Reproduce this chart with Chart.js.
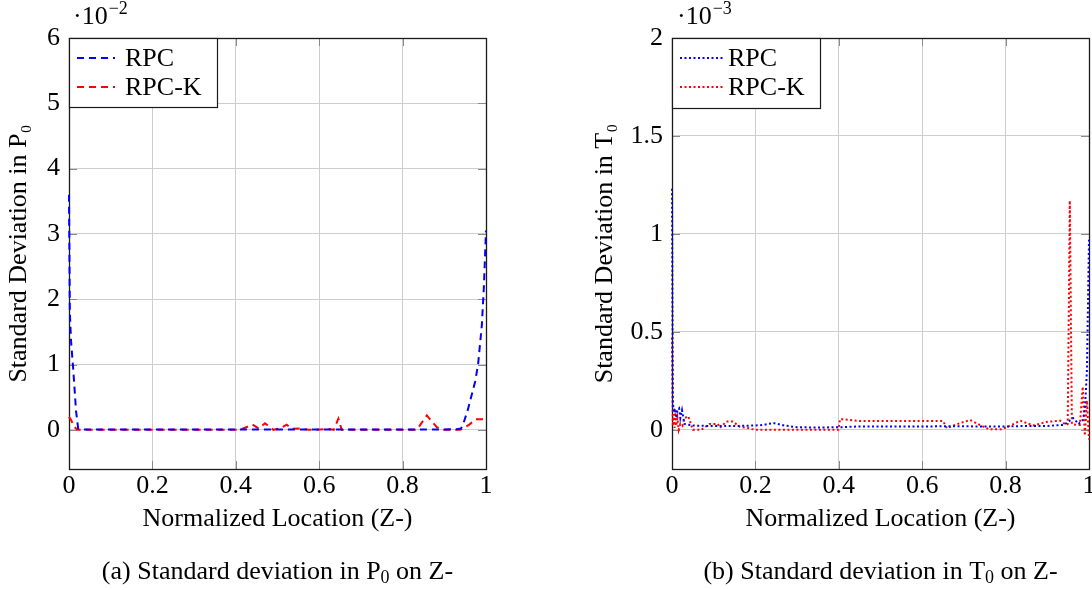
<!DOCTYPE html>
<html>
<head>
<meta charset="utf-8">
<script src="https://cdn.jsdelivr.net/npm/chart.js@4.4.1/dist/chart.umd.min.js"></script>
<style>
  html, body { margin: 0; padding: 0; background: #fff; overflow: hidden; width: 1092px; height: 590px; }
  canvas { position: absolute; top: 0; }
  #cP { left: 0px; }
  #cT { left: 546px; }
</style>
</head>
<body>
<canvas id="cP" width="546" height="590"></canvas>
<canvas id="cT" width="560" height="590"></canvas>
<script>
// ---------------- DATA ----------------
// x: normalized location (Z-), shared tick arrays
const X_TICKS = [0, 0.2, 0.4, 0.6, 0.8, 1];
const X_TICK_LABELS = ['0', '0.2', '0.4', '0.6', '0.8', '1'];

// (a) Standard deviation in P0, values in units of 1e-2
const P_Y_TICKS = [0, 1, 2, 3, 4, 5, 6];
const P_Y_TICK_LABELS = ['0', '1', '2', '3', '4', '5', '6'];
const P_RPC_X = [0, 0.002, 0.005, 0.01, 0.017, 0.022, 0.03, 0.1, 0.2, 0.3, 0.4, 0.5, 0.6, 0.7, 0.8, 0.9, 0.93, 0.94, 0.945, 0.957, 0.974, 0.981, 0.99, 0.995, 1];
const P_RPC_Y = [3.6, 1.8, 1.35, 0.94, 0.28, 0.02, 0.005, 0.004, 0.003, 0.003, 0.003, 0.004, 0.004, 0.004, 0.004, 0.005, 0.01, 0.02, 0.08, 0.32, 0.74, 1.0, 1.6, 2.2, 3.05];
const P_RPCK_X = [0, 0.005, 0.012, 0.02, 0.1, 0.2, 0.3, 0.41, 0.425, 0.44, 0.455, 0.47, 0.49, 0.505, 0.522, 0.534, 0.554, 0.575, 0.594, 0.618, 0.635, 0.646, 0.654, 0.7, 0.8, 0.834, 0.858, 0.882, 0.897, 0.92, 0.938, 0.96, 0.975, 0.99, 1];
const P_RPCK_Y = [0.2, 0.15, 0.05, 0.0, 0.0, 0.0, 0.0, 0.0, 0.04, 0.08, 0.02, 0.1, 0.0, 0.02, 0.08, 0.015, 0.02, 0.0, 0.0, 0.015, 0.0, 0.17, 0.0, 0.0, 0.0, 0.0, 0.22, 0.04, 0.0, 0.0, 0.0, 0.08, 0.16, 0.16, 0.16];

// (b) Standard deviation in T0, values in units of 1e-3
const T_Y_TICKS = [0, 0.5, 1, 1.5, 2];
const T_Y_TICK_LABELS = ['0', '0.5', '1', '1.5', '2'];
const T_RPC_X = [0, 0.002, 0.004, 0.007, 0.01, 0.013, 0.017, 0.02, 0.024, 0.03, 0.05, 0.08, 0.12, 0.16, 0.2, 0.22, 0.243, 0.27, 0.3, 0.35, 0.4, 0.45, 0.5, 0.55, 0.6, 0.65, 0.7, 0.75, 0.8, 0.85, 0.9, 0.94, 0.962, 0.975, 0.985, 0.99, 0.995, 1.0];
const T_RPC_Y = [1.23, 0.15, 0.09, 0.11, 0.06, 0.1, 0.11, 0.06, 0.1, 0.03, 0.022, 0.02, 0.02, 0.02, 0.022, 0.025, 0.035, 0.022, 0.013, 0.012, 0.013, 0.017, 0.017, 0.017, 0.017, 0.018, 0.018, 0.017, 0.017, 0.02, 0.02, 0.025, 0.06, 0.03, 0.05, 0.1, 0.3, 0.97];
const T_RPCK_X = [0, 0.002, 0.004, 0.006, 0.008, 0.01, 0.013, 0.016, 0.02, 0.025, 0.03, 0.039, 0.05, 0.07, 0.09, 0.11, 0.115, 0.13, 0.146, 0.163, 0.18, 0.2, 0.25, 0.3, 0.35, 0.399, 0.403, 0.45, 0.5, 0.55, 0.6, 0.65, 0.659, 0.69, 0.715, 0.738, 0.76, 0.79, 0.81, 0.835, 0.866, 0.898, 0.93, 0.946, 0.949, 0.954, 0.959, 0.97, 0.978, 0.985, 0.99, 0.995, 1.0];
const T_RPCK_Y = [0.47, 0.02, 0.08, 0.01, 0.1, 0.02, 0.06, 0.0, 0.03, 0.02, 0.06, 0.07, 0.0, 0.0, 0.03, 0.03, 0.01, 0.042, 0.042, 0.015, 0.01, 0.0, 0.0, 0.0, 0.0, 0.0, 0.055, 0.045, 0.045, 0.045, 0.045, 0.045, 0.008, 0.034, 0.05, 0.025, 0.003, 0.003, 0.02, 0.047, 0.022, 0.04, 0.047, 0.025, 0.03, 1.17, 0.03, 0.025, 0.025, 0.22, -0.03, 0.15, -0.05];

// ---------------- RENDERING ----------------
const FONT = "'Liberation Serif', 'DejaVu Serif', serif";
const FS = 26;
Chart.defaults.font.family = FONT;
Chart.defaults.font.size = FS;
Chart.defaults.color = '#000';

const zip = (xs, ys) => xs.map((x, i) => ({ x, y: ys[i] }));

const decorPlugin = {
  id: 'decor',
  beforeDatasetsDraw(chart, args, o) {
    const ctx = chart.ctx, a = chart.chartArea;
    const xs = chart.scales.x, ys = chart.scales.y;
    ctx.save();
    // inner tick marks (all four sides)
    ctx.strokeStyle = '#8a8a8a';
    ctx.lineWidth = 1;
    const TL = 8;
    ctx.beginPath();
    X_TICKS.forEach(v => {
      const px = Math.round(xs.getPixelForValue(v)) + 0.5;
      ctx.moveTo(px, a.bottom); ctx.lineTo(px, a.bottom - TL);
      ctx.moveTo(px, a.top); ctx.lineTo(px, a.top + TL);
    });
    o.yTicks.forEach(v => {
      const py = Math.round(ys.getPixelForValue(v)) + 0.5;
      ctx.moveTo(a.left, py); ctx.lineTo(a.left + TL, py);
      ctx.moveTo(a.right, py); ctx.lineTo(a.right - TL, py);
    });
    ctx.stroke();
    // frame
    ctx.strokeStyle = '#1a1a1a';
    ctx.lineWidth = 1.3;
    ctx.strokeRect(Math.round(a.left) + 0.5, Math.round(a.top) + 0.5, Math.round(a.right - a.left), Math.round(a.bottom - a.top));
    ctx.restore();
  },
  afterDatasetsDraw(chart, args, o) {
    const ctx = chart.ctx, a = chart.chartArea;
    ctx.save();
    // legend box
    const L = o.legend;
    const bx = Math.round(a.left) + 0.5, by = Math.round(a.top) + 0.5;
    ctx.fillStyle = '#fff';
    ctx.fillRect(bx, by, L.w, L.h);
    ctx.strokeStyle = '#1a1a1a';
    ctx.lineWidth = 1.2;
    ctx.strokeRect(bx, by, L.w, L.h);
    ctx.font = FS + 'px ' + FONT;
    ctx.textBaseline = 'middle';
    ctx.textAlign = 'left';
    chart.data.datasets.forEach((ds, i) => {
      const yy = a.top + L.rows[i];
      ctx.strokeStyle = ds.borderColor;
      ctx.lineWidth = ds.borderWidth;
      ctx.setLineDash(ds.borderDash);
      ctx.beginPath();
      ctx.moveTo(a.left + L.s0, yy); ctx.lineTo(a.left + L.s1, yy);
      ctx.stroke();
      ctx.setLineDash([]);
      ctx.fillStyle = '#000';
      ctx.fillText(ds.label, a.left + L.tx, yy + 1);
    });

    // exponent label above the y axis
    ctx.fillStyle = '#000';
    ctx.textBaseline = 'alphabetic';
    ctx.font = FS + 'px ' + FONT;
    const ex = a.left + o.expDx;
    ctx.fillText('\u00b710', ex, 24);
    const w = ctx.measureText('\u00b710').width;
    ctx.font = '18px ' + FONT;
    ctx.fillText(o.expText, ex + w + 1, 14);

    // caption
    const cx = (a.left + a.right) / 2;
    const parts = o.caption; // [before, sub, after]
    const f1 = FS + 'px ' + FONT, f2 = '18px ' + FONT;
    ctx.font = f1; const w1 = ctx.measureText(parts[0]).width;
    ctx.font = f2; const w2 = ctx.measureText(parts[1]).width;
    ctx.font = f1; const w3 = ctx.measureText(parts[2]).width;
    const sx = cx - (w1 + w2 + w3) / 2;
    ctx.textAlign = 'left';
    ctx.font = f1; ctx.fillText(parts[0], sx, 579);
    ctx.font = f2; ctx.fillText(parts[1], sx + w1, 583);
    ctx.font = f1; ctx.fillText(parts[2], sx + w1 + w2, 579);
    ctx.restore();
  }
};

function makeChart(id, cfg) {
  return new Chart(document.getElementById(id), {
    type: 'line',
    data: { datasets: cfg.datasets },
    plugins: [decorPlugin],
    options: {
      responsive: false,
      animation: false,
      events: [],
      layout: { padding: cfg.padding },
      plugins: {
        legend: { display: false },
        tooltip: { enabled: false },
        decor: cfg.decor
      },
      scales: {
        x: {
          type: 'linear', min: 0, max: 1,
          afterBuildTicks: s => { s.ticks = X_TICKS.map(v => ({ value: v })); },
          afterFit: s => { s.height = 66; },
          ticks: { padding: 2, maxRotation: 0, callback: (v, i) => X_TICK_LABELS[i] },
          grid: { color: '#cdcdcd', lineWidth: 1, drawTicks: false },
          border: { display: false },
          title: { display: true, text: 'Normalized Location (Z-)', padding: 0, font: { size: FS } }
        },
        y: {
          type: 'linear', min: cfg.yMin, max: cfg.yMax,
          afterBuildTicks: s => { s.ticks = cfg.yTicks.map(v => ({ value: v })); },
          afterFit: s => { s.width = cfg.yAxisW; },
          ticks: { padding: 9, callback: (v, i) => cfg.yTickLabels[i] },
          grid: { color: '#cdcdcd', lineWidth: 1, drawTicks: false },
          border: { display: false },
          title: { display: true, text: cfg.yTitle, padding: { top: 4, bottom: 0 }, font: { size: FS } }
        }
      }
    }
  });
}

const CLIP = { left: 2, right: 2, top: 0, bottom: 0 };

makeChart('cP', {
  padding: { left: 0, top: 38, right: 60, bottom: 55 },
  yAxisW: 69,
  yMin: -0.6, yMax: 6,
  yTicks: P_Y_TICKS, yTickLabels: P_Y_TICK_LABELS,
  yTitle: 'Standard Deviation in P\u2080',
  datasets: [
    { label: 'RPC', data: zip(P_RPC_X, P_RPC_Y), borderColor: '#0000ff', borderWidth: 2, borderDash: [7, 5], pointRadius: 0, tension: 0, fill: false, clip: CLIP },
    { label: 'RPC-K', data: zip(P_RPCK_X, P_RPCK_Y), borderColor: '#ff0000', borderWidth: 2, borderDash: [7, 5], pointRadius: 0, tension: 0, fill: false, clip: CLIP }
  ],
  decor: {
    yTicks: P_Y_TICKS,
    legend: { w: 148, h: 69, rows: [20, 49], s0: 8, s1: 46, tx: 56 },
    expDx: 4, expText: '\u22122',
    caption: ['(a) Standard deviation in P', '0', ' on Z-']
  }
});

makeChart('cT', {
  padding: { left: 40, top: 38, right: 17, bottom: 55 },
  yAxisW: 86,
  yMin: -0.2, yMax: 2,
  yTicks: T_Y_TICKS, yTickLabels: T_Y_TICK_LABELS,
  yTitle: 'Standard Deviation in T\u2080',
  datasets: [
    { label: 'RPC', data: zip(T_RPC_X, T_RPC_Y), borderColor: '#0000ff', borderWidth: 2, borderDash: [2, 2.5], pointRadius: 0, tension: 0, fill: false, clip: CLIP },
    { label: 'RPC-K', data: zip(T_RPCK_X, T_RPCK_Y), borderColor: '#ff0000', borderWidth: 2, borderDash: [2, 2.5], pointRadius: 0, tension: 0, fill: false, clip: CLIP }
  ],
  decor: {
    yTicks: T_Y_TICKS,
    legend: { w: 148, h: 70, rows: [20, 49], s0: 8, s1: 51, tx: 56 },
    expDx: 5, expText: '\u22123',
    caption: ['(b) Standard deviation in T', '0', ' on Z-']
  }
});
</script>
</body>
</html>
